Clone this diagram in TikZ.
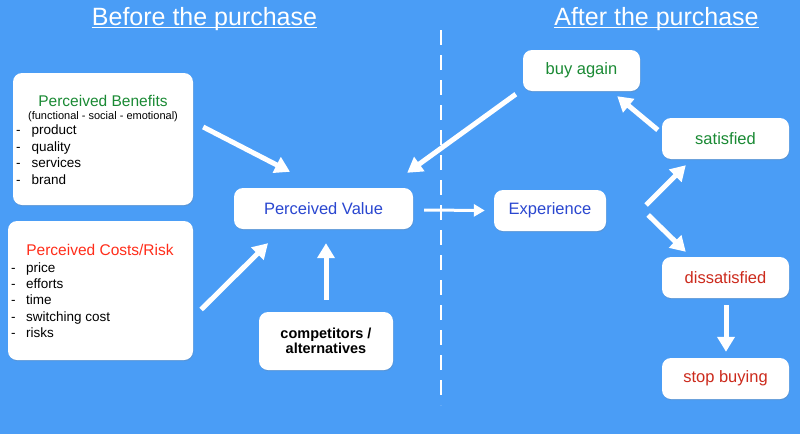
\documentclass[tikz,border=0pt]{standalone}
\usepackage{fontspec}
\setmainfont{Liberation Sans}
\usetikzlibrary{arrows.meta,calc,shadows}
\definecolor{bg}{RGB}{74,157,246}
\definecolor{grn}{RGB}{26,138,52}
\definecolor{blu}{RGB}{42,71,208}
\definecolor{rd}{RGB}{204,42,28}
\definecolor{rdb}{RGB}{255,45,26}
\newcommand{\fs}[1]{\fontsize{#1}{#1}\selectfont}
\tikzset{
  box/.style={fill=white, rounded corners=9pt, inner sep=0pt,
    drop shadow={opacity=0.25, shadow xshift=0.6pt, shadow yshift=-1.2pt}},
  big/.style={-{Triangle[width=17pt,length=15pt]}, line width=5pt, white},
  small/.style={-{Triangle[width=12pt,length=11pt]}, line width=3pt, white},
  heading/.style={text=white, inner sep=0pt, anchor=base, font=\fs{25}},
  item/.style={inner sep=0pt, anchor=base west, font=\fs{13.5}},
  lbl/.style={font=\fs{16.5}},
}
\begin{document}
\begin{tikzpicture}[x=1pt,y=-1pt]
\fill[bg] (0,0) rectangle (800,434);
\useasboundingbox (0,0) rectangle (800,434);

% headings
\node[heading] (h1) at (204.5,25) {Before the purchase};
\node[heading] (h2) at (656.5,25) {After the purchase};
\draw[white, line width=1.3pt] ($(h1.base west)+(0,2.5)$) -- ($(h1.base east)+(0,2.5)$);
\draw[white, line width=1.3pt] ($(h2.base west)+(0,2.5)$) -- ($(h2.base east)+(0,2.5)$);

% divider
\coordinate (dtop) at (441,30);
\coordinate (dbot) at (441,405);
\draw[white, line width=2.6pt, dash pattern=on 15pt off 10pt] (dtop) -- (dbot);

% boxes
\node[box, minimum width=180pt, minimum height=132pt] (ben) at (103,139) {};
\node[box, minimum width=185pt, minimum height=139pt] (cost) at (100.5,290.5) {};
\node[box, minimum width=179pt, minimum height=41pt, lbl, text=blu] (pv) at (323.5,208.5) {Perceived Value};
\node[box, minimum width=134pt, minimum height=58pt, font=\fs{14.5}\bfseries, align=center] (comp) at (326,341) {competitors /\\[1pt]alternatives};
\node[box, minimum width=112pt, minimum height=41pt, lbl, text=blu] (exp) at (550,210.5) {Experience};
\node[box, minimum width=117pt, minimum height=41pt, lbl, text=grn] (buy) at (581.5,70.5) {buy again};
\node[box, minimum width=127pt, minimum height=41pt, lbl, text=grn] (sat) at (725.5,138.5) {satisfied};
\node[box, minimum width=127pt, minimum height=41pt, lbl, text=rd] (dis) at (725.5,277.5) {dissatisfied};
\node[box, minimum width=127pt, minimum height=41pt, lbl, text=rd] (stop) at (725.5,378.5) {stop buying};

% benefits text
\node[text=grn, font=\fs{15.5}, inner sep=0pt, anchor=base] (bt) at (103,106) {Perceived Benefits};
\node[font=\fs{11}, inner sep=0pt, anchor=base] (bs) at (103,119) {(functional - social - emotional)};
\foreach \t [count=\i] in {product,quality,services,brand}{
  \node[item] (bd\i) at (16,{134.5+16.5*(\i-1)}) {-};
  \node[item] (bi\i) at (31.5,{134.5+16.5*(\i-1)}) {\t};
}

% costs text
\node[text=rdb, font=\fs{15.5}, inner sep=0pt, anchor=base] (ct) at (100,255) {Perceived Costs/Risk};
\foreach \t [count=\i] in {price,efforts,time,switching cost,risks}{
  \node[item] (cd\i) at (11,{272.5+16.2*(\i-1)}) {-};
  \node[item] (ci\i) at (26,{272.5+16.2*(\i-1)}) {\t};
}

% arrows
\draw[big] ($(ben.east)+(10,-12)$) -- ($(pv.north)+(-33.5,-16)$);
\draw[big] ($(cost.east)+(8,19)$) -- ($(pv.south)+(-55.5,14)$);
\draw[big] ($(comp.north)+(0,-12)$) -- ($(pv.south)+(2.5,14)$);
\draw[big] ($(buy.south west)+(-7,3)$) -- ($(pv.north east)+(-6,-15)$);
\draw[small] ($(pv.east)+(11,1.5)$) -- ($(exp.west)+(-9,0)$);
\draw[big] ($(exp.east)+(40,-5.5)$) -- ($(sat.south west)+(24,6)$);
\draw[big] ($(exp.east)+(42,4.5)$) -- ($(dis.north west)+(24,-5)$);
\draw[big] ($(sat.west)+(-4,-8.5)$) -- ($(buy.south east)+(-23,5)$);
\draw[big] ($(dis.south)+(0.5,7)$) -- ($(stop.north)+(0.5,-6)$);
\end{tikzpicture}
\end{document}
